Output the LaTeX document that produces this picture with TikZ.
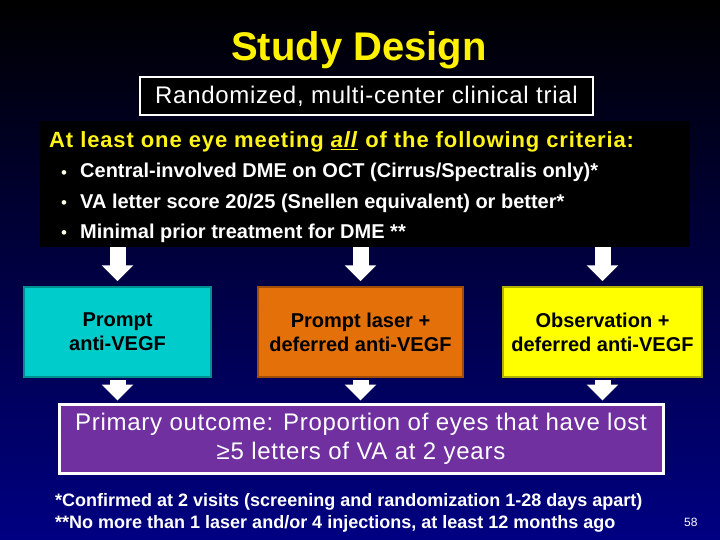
\documentclass[tikz,border=0pt]{standalone}
\usepackage{fontspec}
\setmainfont{Liberation Sans}
\newfontfamily\widefont[LetterSpace=3]{Liberation Sans}
\newfontfamily\headfont[LetterSpace=4]{Liberation Sans}
\usepackage{xcolor}
\usepackage{tikz}
\usetikzlibrary{arrows.meta, positioning, calc}

\definecolor{slidenavy}{RGB}{0,0,130}
\definecolor{armcyan}{RGB}{0,204,204}
\definecolor{armorange}{RGB}{228,112,10}
\definecolor{armyellow}{RGB}{255,255,0}
\definecolor{outpurple}{RGB}{112,48,160}

\begin{document}
\begin{tikzpicture}[
    x=1pt, y=-1pt,
    every node/.style={inner sep=0pt},
    titlestyle/.style={font=\fontsize{40}{48}\selectfont\bfseries, text=yellow},
    armbox/.style={draw=#1!70!black, line width=1.5pt, fill=#1, minimum height=90pt,
        align=center, text=black, font=\fontsize{20}{24}\selectfont\bfseries},
    crittext/.style={anchor=base west, text=white, font=\fontsize{20}{24}\selectfont\bfseries},
    bulletdot/.style={anchor=base west, text=white!90!yellow, font=\fontsize{17}{20}\selectfont},
    notetext/.style={anchor=base west, text=white, font=\fontsize{18}{22}\selectfont\bfseries},
    blockarrow/.style={white, line width=16pt, -{Triangle[width=31pt, length=16pt]}}
]

% background
\useasboundingbox (0,0) rectangle (720,540);
\shade[top color=black, bottom color=slidenavy] (0,0) rectangle (720,540);

% title
\node[titlestyle, anchor=base] (title) at (359,61) {Study Design};

\node[draw=white, line width=2.5pt, fill=black, minimum width=453pt, minimum height=38pt,
    text=white, font=\widefont\fontsize{24}{28}\selectfont] (trial) at (366.5,96)
    {Randomized, multi-center clinical trial};

% eligibility criteria
\node[fill=black, minimum width=650pt, minimum height=126pt] (crit) at (365,184) {};
\node[anchor=base west, text=yellow!90!white, font=\headfont\fontsize{22}{26}\selectfont\bfseries] (head) at (49,148)
    {At least one eye meeting \underline{\textit{all}} of the following criteria:};
\foreach \txt [count=\i] in {Central-involved DME on OCT (Cirrus/Spectralis only)*,
                             VA letter score 20/25 (Snellen equivalent) or better*,
                             Minimal prior treatment for DME **} {
    \node[bulletdot] (bul\i) at (61,149+30*\i) {•};
    \node[crittext] (item\i) at (80,148+30*\i) {\txt};
}

% treatment arms
\node[armbox=armcyan,   minimum width=187pt] (arm1) at (117.5,332) {Prompt\\anti-VEGF};
\node[armbox=armorange, minimum width=205pt] (arm2) at (360.5,332) {Prompt laser +\\deferred anti-VEGF};
\node[armbox=armyellow, minimum width=199pt] (arm3) at (602.5,332) {Observation +\\deferred anti-VEGF};

% primary outcome
\node[draw=white, line width=3pt, fill=outpurple, minimum width=604pt, minimum height=69pt,
    align=center, text=white, font=\widefont\fontsize{24}{29}\selectfont] (out) at (361,438.5)
    {Primary outcome: Proportion of eyes that have lost\\≥5 letters of VA at 2 years};

% arrows
\foreach \a in {arm1,arm2,arm3} {
    \draw[blockarrow, shorten >=5pt] (crit.south -| \a.north) -- (\a.north);
    \draw[blockarrow, shorten <=2pt, shorten >=2pt] (\a.south) -- (\a.south |- out.north);
}

% footnotes
\node[notetext] (note1) at (55,506) {*Confirmed at 2 visits (screening and randomization 1-28 days apart)};
\node[notetext] (note2) at (55,528) {**No more than 1 laser and/or 4 injections, at least 12 months ago};
\node[anchor=base west, text=white, font=\fontsize{12}{14}\selectfont] (page) at (684,526) {58};

\end{tikzpicture}
\end{document}
